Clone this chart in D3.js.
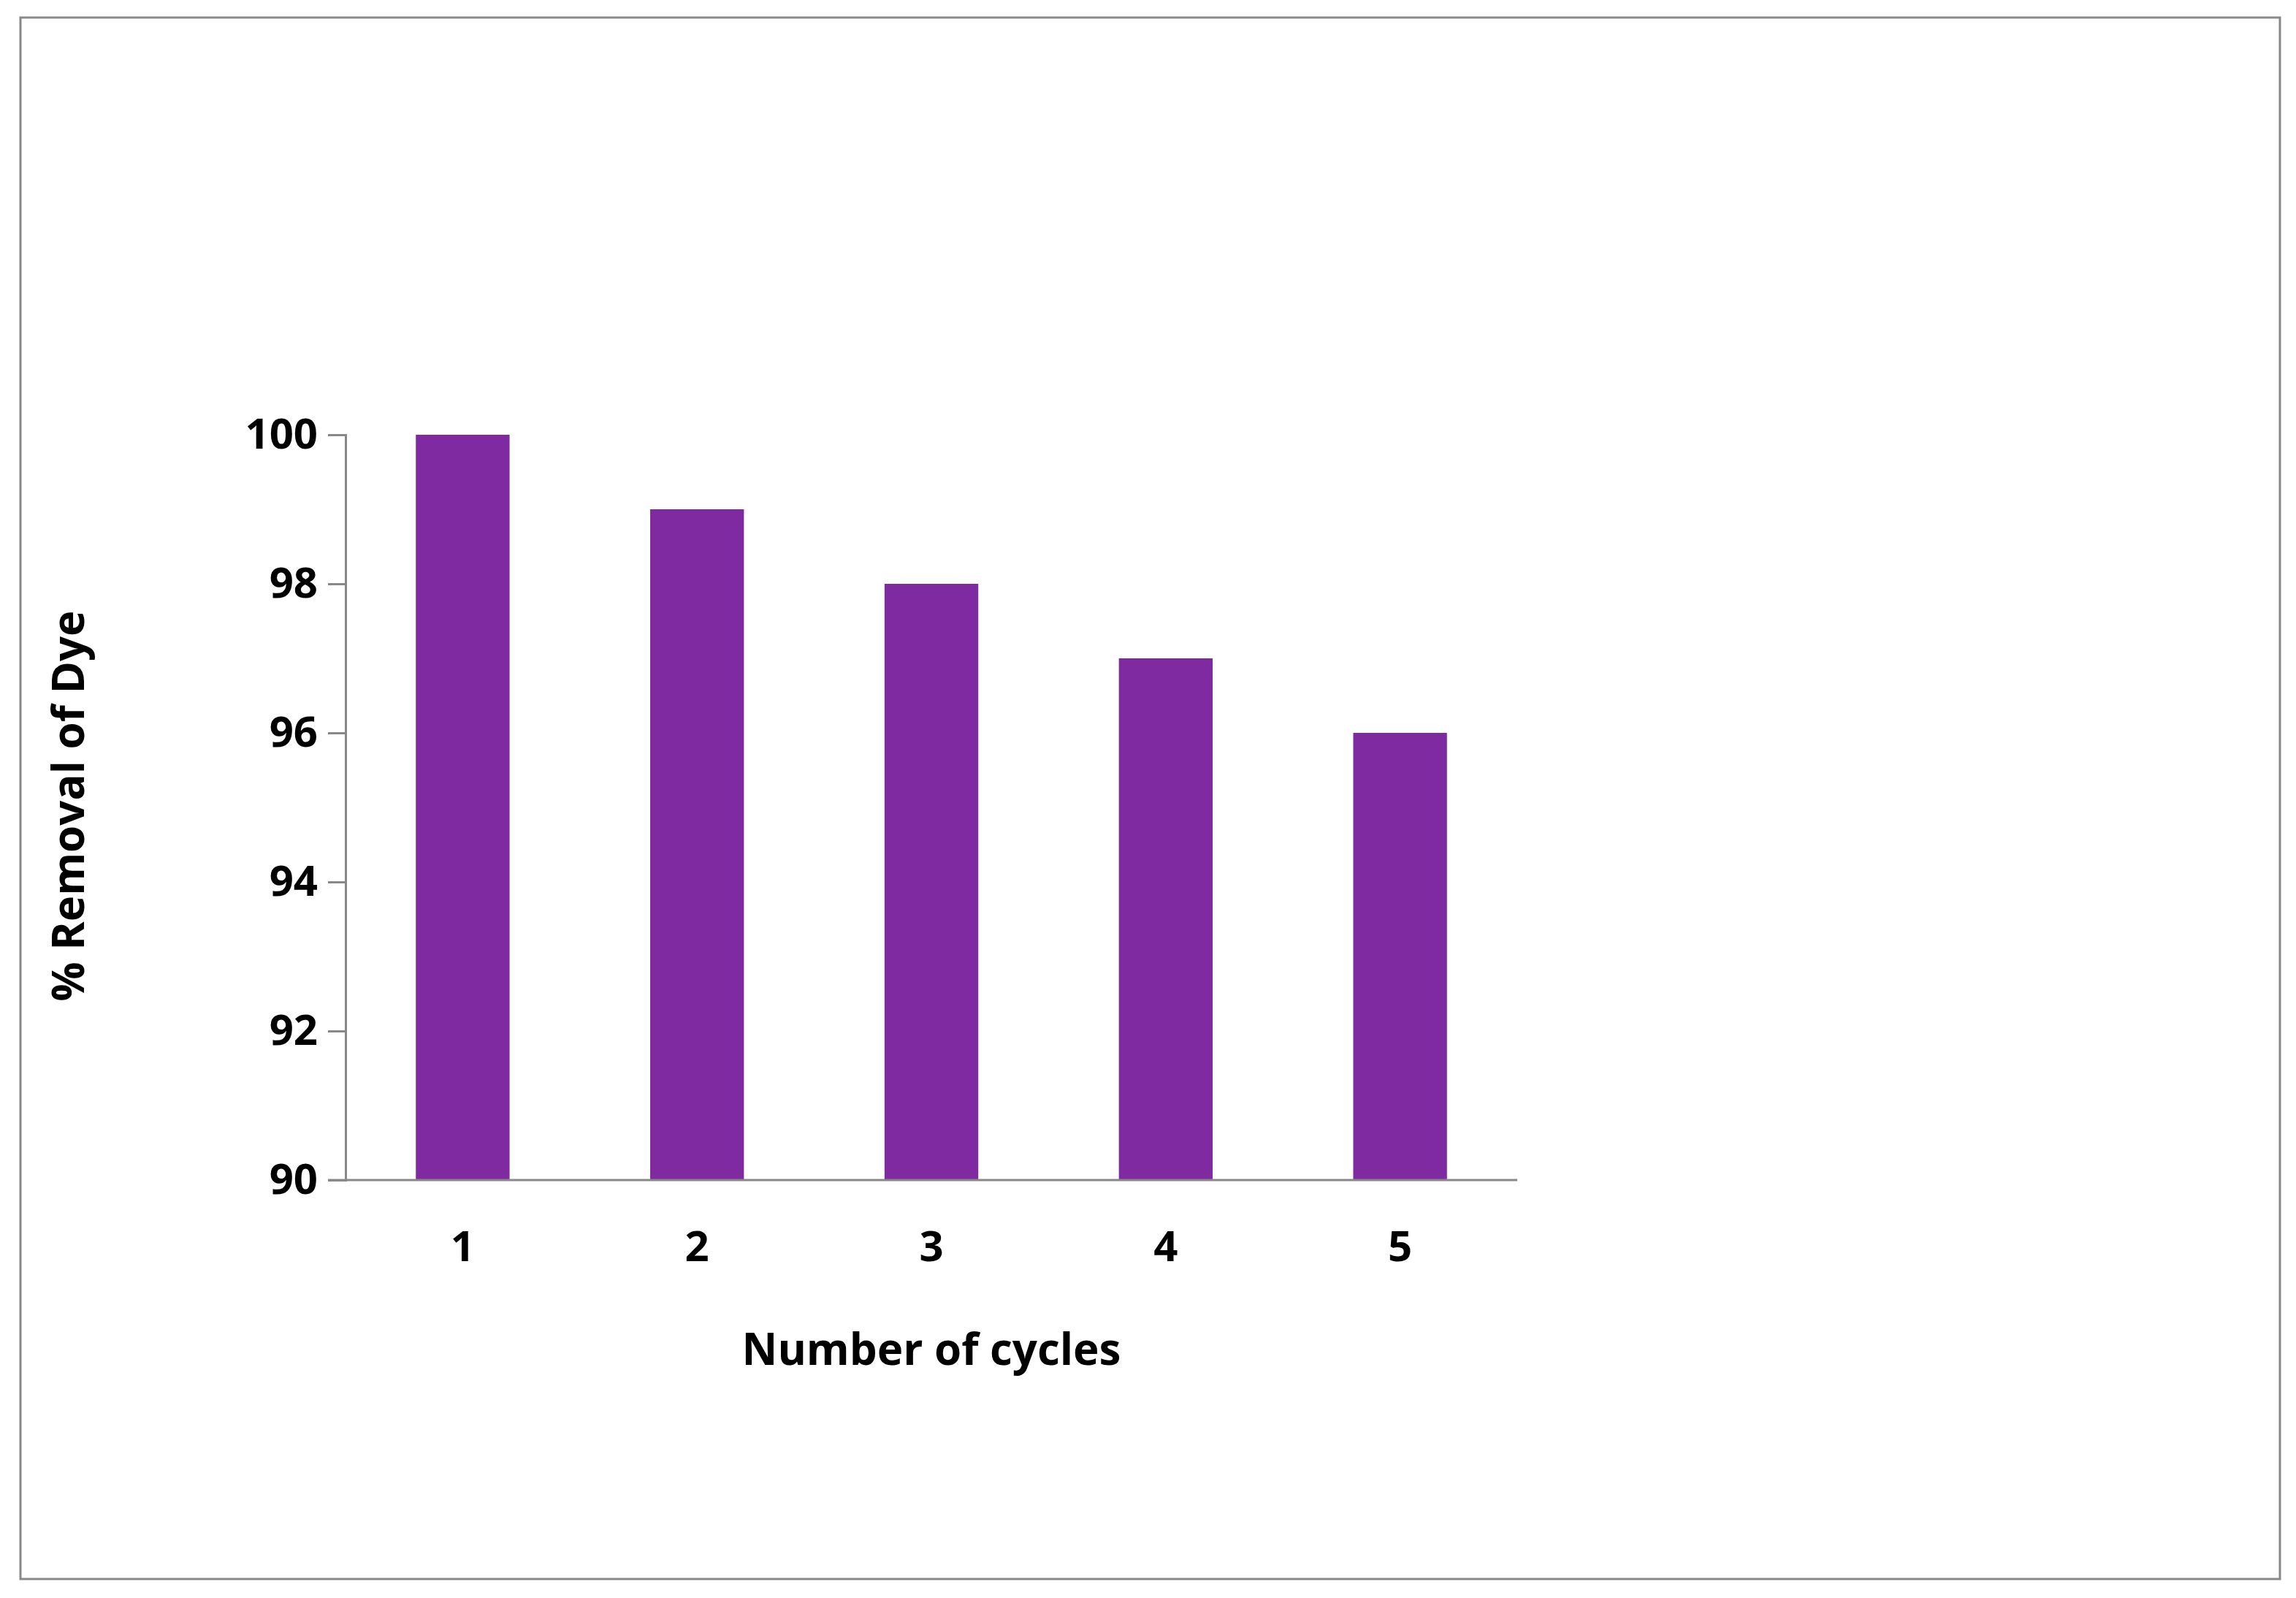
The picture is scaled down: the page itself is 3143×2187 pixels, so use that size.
<!DOCTYPE html>
<html><head><meta charset="utf-8">
<script src="https://cdn.jsdelivr.net/npm/d3@7"></script>
<style>body{margin:0;background:#fff}svg{display:block}</style>
</head><body>
<script>
const categories = ["1","2","3","4","5"];
const values = [100, 99, 98, 97, 96];
const yTicks = [90, 92, 94, 96, 98, 100];

const W = 3143, H = 2187;
const svg = d3.select("body").append("svg").attr("width", W).attr("height", H);
svg.append("rect").attr("x",28).attr("y",24).attr("width",3093).attr("height",2137)
  .attr("fill","#fff").attr("stroke","#888").attr("stroke-width",3);

const x0 = 473, x1 = 2077, yTop = 595, yBot = 1615;
const x = d3.scaleBand().domain(categories).range([x0, x1]).paddingInner(0.6).paddingOuter(0.3);
const y = d3.scaleLinear().domain([90, 100]).range([yBot, yTop]);
const font = "'Open Sans', 'Liberation Sans', sans-serif";

svg.selectAll("rect.bar").data(values).join("rect").attr("class","bar")
  .attr("x",(d,i)=>x(categories[i])).attr("width",x.bandwidth())
  .attr("y",d=>y(d)).attr("height",d=>yBot-y(d)).attr("fill","#7F2AA0");

const ya = svg.append("g").attr("transform",`translate(${x0},0)`)
  .call(d3.axisLeft(y).tickValues(yTicks).tickSize(24).tickPadding(14).tickFormat(d3.format("d")));
ya.select(".domain").attr("stroke","#888").attr("stroke-width",3);
ya.selectAll(".tick line").attr("stroke","#888").attr("stroke-width",3);
ya.selectAll("text").attr("font-family",font).attr("font-weight","bold").attr("font-size",58).attr("fill","#000");

const xa = svg.append("g").attr("transform",`translate(0,${yBot})`)
  .call(d3.axisBottom(x).tickSize(0).tickPadding(70));
xa.select(".domain").attr("d",`M${x0-24},0H${x1}`).attr("stroke","#888").attr("stroke-width",3);
xa.selectAll("text").attr("font-family",font).attr("font-weight","bold").attr("font-size",58).attr("fill","#000");

svg.append("text").attr("x",1275).attr("y",1868).attr("text-anchor","middle")
  .attr("font-family",font).attr("font-weight","bold").attr("font-size",60).text("Number of cycles");
svg.append("text").attr("transform","translate(115,1103) rotate(-90)").attr("text-anchor","middle")
  .attr("font-family",font).attr("font-weight","bold").attr("font-size",60).text("% Removal of Dye");
</script>
</body></html>
